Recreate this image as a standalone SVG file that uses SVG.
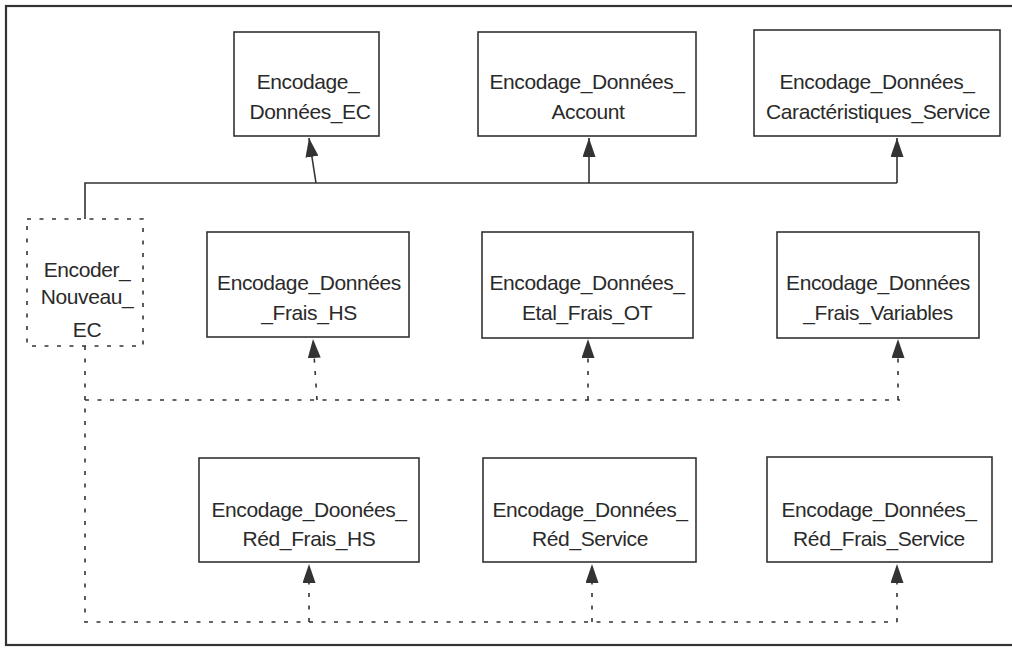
<svg xmlns="http://www.w3.org/2000/svg" width="1012" height="648" viewBox="0 0 1012 648">
<style>
.box{fill:#fff;stroke:#333;stroke-width:1.6}
.dbox{fill:none;stroke:#333;stroke-width:1.6;stroke-dasharray:4 8.5}
.t{font-family:"Liberation Sans",Arial,sans-serif;font-size:21px;fill:#2a2a2a;text-anchor:middle;letter-spacing:-0.4px}
.solid{fill:none;stroke:#333;stroke-width:1.6}
.dot{fill:none;stroke:#333;stroke-width:1.6;stroke-dasharray:4 8.5}
</style>
<defs>
<marker id="ah" markerUnits="userSpaceOnUse" markerWidth="20" markerHeight="13" refX="19" refY="6.5" orient="auto">
<path d="M0,0 L19,6.5 L0,13 Z" fill="#333"/>
</marker>
</defs>
<rect x="6" y="6" width="1012" height="639" fill="#fff" stroke="#333" stroke-width="2.2"/>
<g id="connectors">
<path class="solid" d="M85,219 V183 H897"/>
<path class="solid" d="M316,183 L309,138" marker-end="url(#ah)"/>
<path class="solid" d="M589,183 V138" marker-end="url(#ah)"/>
<path class="solid" d="M897,183 V138" marker-end="url(#ah)"/>
<path class="dot" d="M85,346 V622 H897"/>
<path class="dot" d="M85,400 H900"/>
<path class="dot" d="M317,400 L313,339" marker-end="url(#ah)"/>
<path class="dot" d="M588,400 V339" marker-end="url(#ah)"/>
<path class="dot" d="M898,400 V339" marker-end="url(#ah)"/>
<path class="dot" d="M309,622 V564" marker-end="url(#ah)"/>
<path class="dot" d="M592,622 V564" marker-end="url(#ah)"/>
<path class="dot" d="M897,622 V564" marker-end="url(#ah)"/>
</g>
<g id="n_ec"><rect class="box" x="234" y="32" width="145" height="104"/><text class="t" x="308" y="89">Encodage_</text><text class="t" x="310" y="119">Données_EC</text></g>
<g id="n_account"><rect class="box" x="478" y="32" width="218" height="104"/><text class="t" x="587" y="89">Encodage_Données_</text><text class="t" x="588" y="119">Account</text></g>
<g id="n_carac"><rect class="box" x="754" y="30" width="246" height="106"/><text class="t" x="877" y="89">Encodage_Données_</text><text class="t" x="878" y="119">Caractéristiques_Service</text></g>
<g id="n_encoder"><rect class="dbox" x="27" y="219" width="116" height="127"/><text class="t" x="87" y="277">Encoder_</text><text class="t" x="87" y="304">Nouveau_</text><text class="t" x="87" y="337">EC</text></g>
<g id="n_frais_hs"><rect class="box" x="207" y="232" width="202" height="105"/><text class="t" x="309" y="290">Encodage_Données</text><text class="t" x="309" y="320">_Frais_HS</text></g>
<g id="n_etal"><rect class="box" x="482" y="232" width="211" height="106"/><text class="t" x="587" y="290">Encodage_Données_</text><text class="t" x="587" y="320">Etal_Frais_OT</text></g>
<g id="n_variables"><rect class="box" x="777" y="232" width="202" height="106"/><text class="t" x="878" y="290">Encodage_Données</text><text class="t" x="878" y="320">_Frais_Variables</text></g>
<g id="n_red_frais_hs"><rect class="box" x="199" y="458" width="220" height="104"/><text class="t" x="309" y="517">Encodage_Doonées_</text><text class="t" x="309" y="546">Réd_Frais_HS</text></g>
<g id="n_red_service"><rect class="box" x="483" y="458" width="213" height="104"/><text class="t" x="590" y="517">Encodage_Données_</text><text class="t" x="590" y="546">Réd_Service</text></g>
<g id="n_red_frais_service"><rect class="box" x="767" y="457" width="225" height="105"/><text class="t" x="879" y="517">Encodage_Données_</text><text class="t" x="879" y="546">Réd_Frais_Service</text></g>
</svg>
